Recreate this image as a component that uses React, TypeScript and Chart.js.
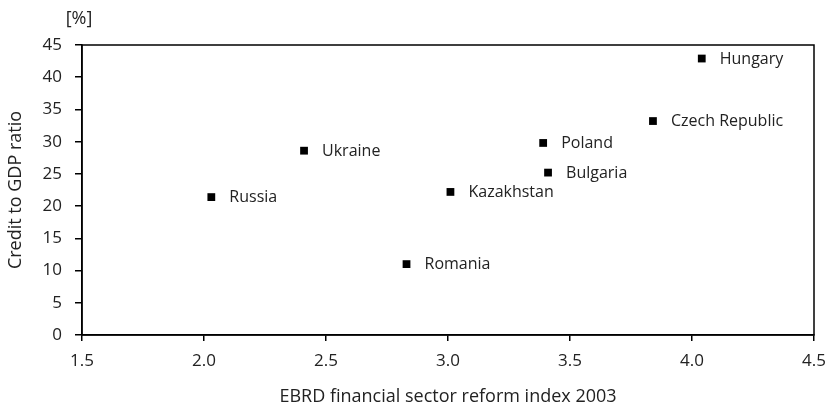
import React, { useEffect, useRef } from "react";
import { Chart, registerables } from "chart.js";

Chart.register(...registerables);

const countries = ["Hungary", "Czech Republic", "Poland", "Bulgaria", "Kazakhstan", "Romania", "Ukraine", "Russia"];
const reformIndex = [4.04, 3.84, 3.39, 3.41, 3.01, 2.83, 2.41, 2.03];
const creditRatio = [42.9, 33.2, 29.8, 25.2, 22.2, 11.0, 28.6, 21.4];
const xTicks = [1.5, 2.0, 2.5, 3.0, 3.5, 4.0, 4.5];
const yTicks = [0, 5, 10, 15, 20, 25, 30, 35, 40, 45];
const unitLabel = "[%]";
const xTitle = "EBRD financial sector reform index 2003";
const yTitle = "Credit to GDP ratio";

const FONT = "'Open Sans', 'Noto Sans', sans-serif";
const TEXT = "#222222";

const framePlugin = {
  id: "frame",
  afterDraw(chart: any) {
    const { ctx, chartArea } = chart;
    ctx.save();
    ctx.strokeStyle = "#000";
    ctx.lineWidth = 1.5;
    ctx.strokeRect(chartArea.left, chartArea.top, chartArea.right - chartArea.left, chartArea.bottom - chartArea.top);
    ctx.restore();
  },
};

const labelsPlugin = {
  id: "pointLabels",
  afterDatasetsDraw(chart: any) {
    const { ctx } = chart;
    const meta = chart.getDatasetMeta(0);
    ctx.save();
    ctx.font = `16px ${FONT}`;
    ctx.fillStyle = TEXT;
    ctx.textAlign = "left";
    ctx.textBaseline = "middle";
    meta.data.forEach((pt: any, i: number) => {
      ctx.fillText(countries[i], pt.x + 18, pt.y + 0.5);
    });
    ctx.restore();
  },
};

const unitPlugin = {
  id: "unitLabel",
  afterDraw(chart: any) {
    const { ctx, chartArea } = chart;
    ctx.save();
    ctx.font = `18px ${FONT}`;
    ctx.fillStyle = TEXT;
    ctx.textAlign = "center";
    ctx.textBaseline = "middle";
    ctx.fillText(unitLabel, chartArea.left - 3, 19);
    ctx.restore();
  },
};

export default function App() {
  const ref = useRef<HTMLCanvasElement | null>(null);

  useEffect(() => {
    if (!ref.current) return;
    const chart = new Chart(ref.current, {
      type: "scatter",
      data: {
        datasets: [
          {
            label: "Countries",
            data: reformIndex.map((x, i) => ({ x, y: creditRatio[i] })),
            pointStyle: "rect",
            pointRadius: 5.5,
            pointHoverRadius: 5.5,
            backgroundColor: "#000",
            borderColor: "#000",
            borderWidth: 0,
          },
        ],
      },
      options: {
        responsive: false,
        animation: false,
        layout: { padding: { left: 0, right: 15, top: 45, bottom: 0 } },
        plugins: {
          legend: { display: false },
          tooltip: { enabled: false },
          title: { display: false },
        },
        scales: {
          x: {
            type: "linear",
            min: 1.5,
            max: 4.5,
            afterBuildTicks: (scale: any) => {
              scale.ticks = xTicks.map((v) => ({ value: v }));
            },
            afterFit: (scale: any) => {
              scale.height = 72;
              scale.paddingLeft = 0;
              scale.paddingRight = 0;
            },
            ticks: {
              color: TEXT,
              font: { family: FONT, size: 17 },
              padding: 10,
              callback: (v: any) => Number(v).toFixed(1),
              maxRotation: 0,
            },
            grid: { drawOnChartArea: false, drawTicks: true, tickLength: 6, color: "#000", lineWidth: 1.5 },
            border: { display: true, color: "#000", width: 1.5 },
            title: {
              display: true,
              text: xTitle,
              color: TEXT,
              font: { family: FONT, size: 18 },
              padding: { top: 0, bottom: -1 },
            },
          },
          y: {
            type: "linear",
            min: 0,
            max: 45,
            afterBuildTicks: (scale: any) => {
              scale.ticks = yTicks.map((v) => ({ value: v }));
            },
            afterFit: (scale: any) => {
              scale.width = 82;
              scale.paddingTop = 0;
              scale.paddingBottom = 0;
            },
            ticks: {
              color: TEXT,
              font: { family: FONT, size: 17 },
              padding: 13,
            },
            grid: { drawOnChartArea: false, drawTicks: true, tickLength: 7, color: "#000", lineWidth: 1.5 },
            border: { display: true, color: "#000", width: 1.5 },
            title: {
              display: true,
              text: yTitle,
              color: TEXT,
              font: { family: FONT, size: 18 },
              padding: { top: 5, bottom: 0 },
            },
          },
        },
      },
      plugins: [framePlugin, labelsPlugin, unitPlugin],
    });
    return () => chart.destroy();
  }, []);

  return (
    <div style={{ position: "absolute", left: 0, top: 0, width: 829, height: 407, background: "#fff" }}>
      <canvas ref={ref} width={829} height={407} style={{ display: "block" }} />
    </div>
  );
}
